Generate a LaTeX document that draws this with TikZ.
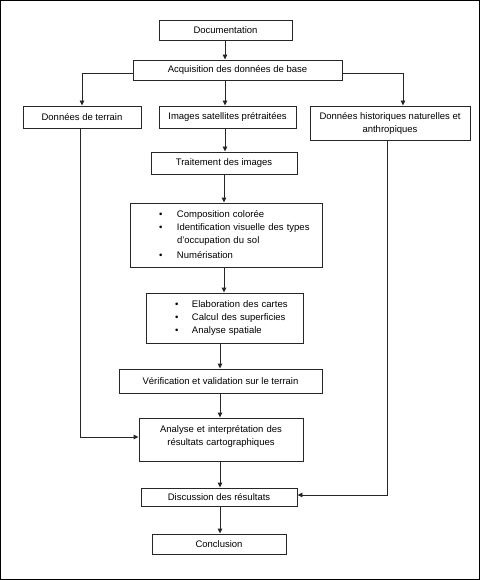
\documentclass[tikz,border=0pt]{standalone}
\usepackage{fontspec}
\setmainfont{Liberation Sans}
\usetikzlibrary{arrows.meta}
\begin{document}
\begin{tikzpicture}[x=1pt,y=-1pt,
  box/.style={draw=black!85, line width=0.9pt, inner sep=0pt, align=center, font=\fontsize{9.5}{13}\selectfont},
  arr/.style={draw=black!85, line width=0.9pt, -{Triangle[length=5pt,width=4.5pt]}}]
\useasboundingbox (0,0) rectangle (480,580);
\draw[line width=1.2pt] (0.6,0.6) rectangle (479.4,579.4);
\node[box, minimum width=133pt, minimum height=20pt] (doc) at (225.5,30) {Documentation};
\node[box, minimum width=209pt, minimum height=20pt] (acq) at (237.5,70) {Acquisition des données de base};
\node[box, minimum width=118pt, minimum height=22pt] (ter) at (82,117) {Données de terrain};
\node[box, minimum width=137pt, minimum height=22pt] (img) at (227.5,117) {Images satellites prétraitées};
\node[box, minimum width=160pt, minimum height=34pt] (his) at (390,123) {Données historiques naturelles et\\anthropiques};
\node[box, minimum width=146pt, minimum height=22pt] (tra) at (224,163) {Traitement des images};
\node[box, text width=192pt, align=left, minimum height=64pt] (comp) at (226,235) {%
\begin{tabular}{@{\hspace{29pt}}p{18pt}@{}l@{}}
\textbullet & Composition colorée\\
\textbullet & Identification visuelle des types\\
 & d’occupation du sol\\[2pt]
\textbullet & Numérisation
\end{tabular}};
\node[box, text width=157pt, align=left, minimum height=50pt] (elab) at (224.5,318) {%
\begin{tabular}{@{\hspace{29pt}}p{17pt}@{}l@{}}
\textbullet & Elaboration des cartes\\
\textbullet & Calcul des superficies\\
\textbullet & Analyse spatiale
\end{tabular}};
\node[box, minimum width=203pt, minimum height=24pt] (ver) at (220.5,381) {Vérification et validation sur le terrain};
\node[box, text width=164pt, minimum height=43pt, inner ysep=3pt, text height=11pt, text depth=26pt] (ana) at (221,439.5) {Analyse et interprétation des\\résultats cartographiques};
\node[box, minimum width=156pt, minimum height=18pt] (dis) at (219,497) {Discussion des résultats};
\node[box, minimum width=134pt, minimum height=20pt] (con) at (219,544) {Conclusion};
\coordinate (a1) at (225,0);
\coordinate (a2) at (220,0);
\coordinate (a3) at (224,0);
\draw[arr] (doc.south -| a1) -- (acq.north -| a1);
\draw[arr] ([yshift=-3pt]acq.west) -| (ter.north);
\draw[arr] ([yshift=-3pt]acq.east) -| ([xshift=13pt]his.north);
\draw[arr] (acq.south -| a1) -- (img.north -| a1);
\draw[arr] (img.south -| a1) -- (tra.north -| a1);
\draw[arr] (tra.south -| a3) -- (comp.north -| a3);
\draw[arr] (comp.south -| a3) -- (elab.north -| a3);
\draw[arr] (elab.south -| a2) -- (ver.north -| a2);
\draw[arr] (ver.south -| a2) -- (ana.north -| a2);
\draw[arr] (ana.south -| a2) -- (dis.north -| a2);
\draw[arr] (dis.south -| a2) -- (con.north -| a2);
\draw[arr] ([xshift=-2pt]ter.south) |- ([yshift=2.5pt]ana.west);
\draw[arr] ([xshift=-3pt]his.south) |- ([yshift=2pt]dis.east);
\end{tikzpicture}
\end{document}
